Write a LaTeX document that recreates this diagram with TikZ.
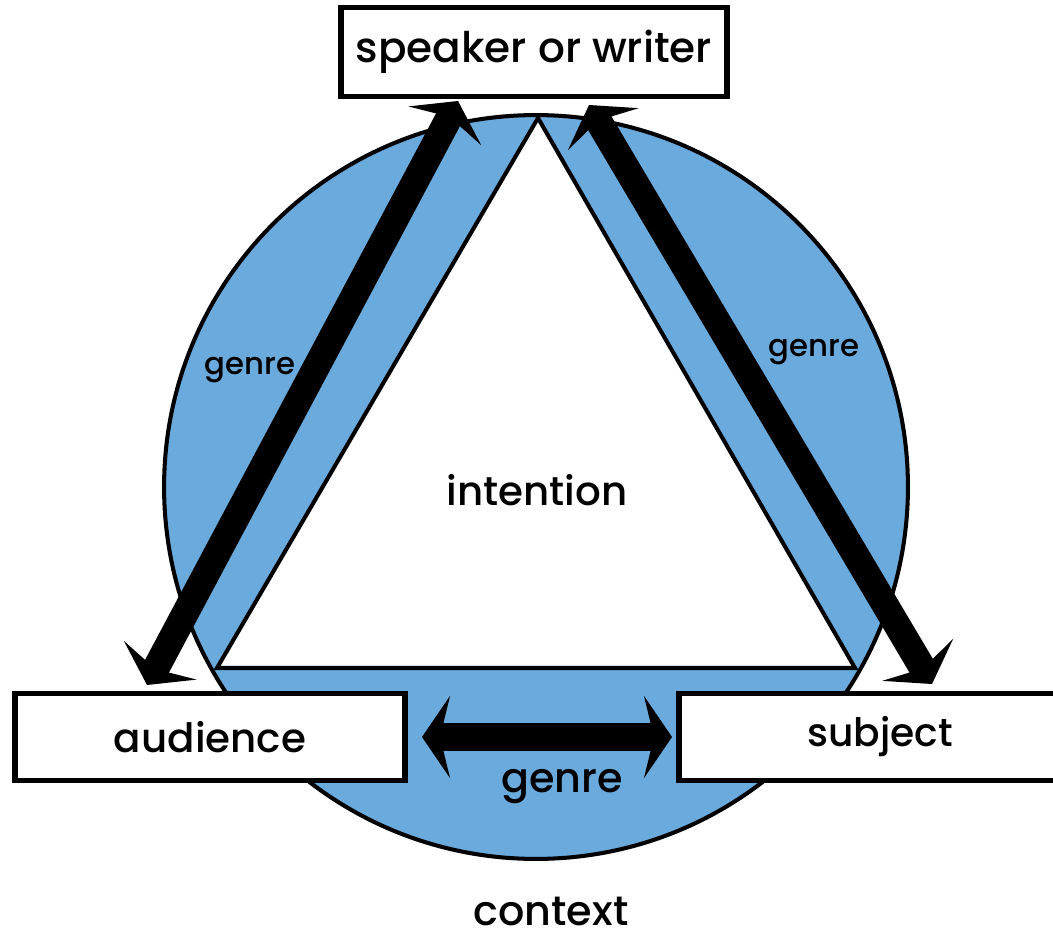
\documentclass[tikz,border=0pt]{standalone}
\usepackage{fontspec}
\setmainfont{Poppins Medium}
\usetikzlibrary{arrows.meta}
\definecolor{genreblue}{RGB}{106,170,220}
\tikzset{
  labelbox/.style={draw, fill=white, line width=3pt, inner sep=0pt},
  genrearrow/.style={line width=15.4pt, {Stealth[length=0.56cm, width=1.64cm, inset=0.2cm]}-{Stealth[length=0.56cm, width=1.64cm, inset=0.2cm]}},
  smalllabel/.style={font=\fontsize{17.5}{20}\selectfont}
}
\newcommand{\sz}[1]{\fontsize{#1}{#1}\selectfont}

\begin{document}
\begin{tikzpicture}[x=0.02cm, y=-0.02cm]
  \useasboundingbox (0,0) rectangle (1053,939);

  % Draw the circle
  \filldraw[fill=genreblue, line width=2.3pt] (536,487) circle (7.44cm);

  % Draw the triangle
  \filldraw[fill=white, line width=2.3pt, line join=miter] (538,118) -- (217,668) -- (855,668) -- cycle;

  % Draw the boxes
  \node[labelbox, minimum width=7.72cm, minimum height=1.78cm, font=\sz{24}] (speaker) at (534,52) {speaker or writer};
  \node[labelbox, minimum width=7.8cm, minimum height=1.74cm, font=\sz{23}] (audience) at (210,737) {audience};
  \node[labelbox, minimum width=8.04cm, minimum height=1.74cm, font=\sz{22.3}] (subject) at (880,737) {subject};

  % arrow end points
  \coordinate (spkleft) at (458,101);
  \coordinate (audtop) at (147,685);
  \coordinate (spkright) at (589,105);
  \coordinate (subtop) at (932,684);
  \coordinate (audright) at (422,737);
  \coordinate (subleft) at (672,737);

  % Draw the genre arrows
  \draw[genrearrow] (audtop) -- (spkleft);
  \draw[genrearrow] (spkright) -- (subtop);
  \draw[genrearrow] (audright) -- (subleft);

  % labels
  \node[smalllabel] (genreleft) at (250,370) {genre};
  \node[smalllabel] (genreright) at (814,352) {genre};
  \node[font=\sz{23.5}] (genrebottom) at (562,787) {genre};
  \node[font=\sz{23}] (intention) at (537,490) {intention};
  \node[font=\sz{23.5}, anchor=base, inner sep=0pt] (context) at (551,925) {context};

\end{tikzpicture}
\end{document}
